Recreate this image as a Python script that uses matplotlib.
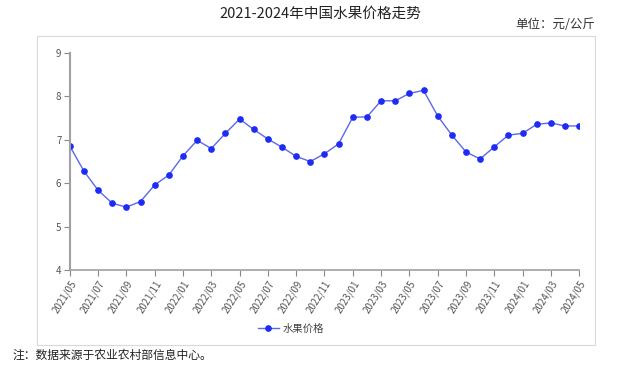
import matplotlib
matplotlib.use("Agg")
import matplotlib.pyplot as plt
from matplotlib.patches import Rectangle

plt.rcParams['font.family'] = ['Noto Sans CJK SC', 'DejaVu Sans']

# monthly fruit price, 2021/05 - 2024/05 (yuan/kg)
months = ['2021/05', '2021/06', '2021/07', '2021/08', '2021/09', '2021/10', '2021/11', '2021/12',
          '2022/01', '2022/02', '2022/03', '2022/04', '2022/05', '2022/06', '2022/07', '2022/08',
          '2022/09', '2022/10', '2022/11', '2022/12', '2023/01', '2023/02', '2023/03', '2023/04',
          '2023/05', '2023/06', '2023/07', '2023/08', '2023/09', '2023/10', '2023/11', '2023/12',
          '2024/01', '2024/02', '2024/03', '2024/04', '2024/05']
prices = [6.86, 6.28, 5.84, 5.54, 5.45, 5.58, 5.96, 6.19,
          6.63, 6.99, 6.80, 7.15, 7.48, 7.24, 7.02, 6.83,
          6.62, 6.50, 6.68, 6.91, 7.52, 7.53, 7.90, 7.90,
          8.07, 8.14, 7.55, 7.11, 6.72, 6.56, 6.84, 7.11,
          7.15, 7.36, 7.39, 7.32, 7.32]
yticks = [4, 5, 6, 7, 8, 9]

fig = plt.figure(figsize=(6.4, 3.71), dpi=100)
fig.patch.set_facecolor('white')

# light frame around the chart
fig.patches.append(Rectangle((0.058, 0.070), 0.872, 0.833, transform=fig.transFigure,
                             fill=False, edgecolor='#d9d9d9', linewidth=0.8))

ax = fig.add_axes([0.109, 0.272, 0.796, 0.585])
x = list(range(len(months)))
line, = ax.plot(x, prices, color='#5b67ee', linewidth=1.0, marker='o', markersize=3.8,
                markerfacecolor='#1e2bf5', markeredgecolor='#1e2bf5', label='水果价格')

ax.set_xlim(0, len(months) - 1)
ax.set_ylim(4, 9)
ax.set_yticks(yticks)
ax.set_xticks(x[::2])
ax.set_xticklabels(months[::2], rotation=58, ha='right', rotation_mode='anchor')

for s in ['top', 'right']:
    ax.spines[s].set_visible(False)
ax.spines['left'].set_color('#a0a0a0')
ax.spines['left'].set_linewidth(1.5)
ax.spines['bottom'].set_color('#a0a0a0')
ax.spines['bottom'].set_linewidth(1.2)
ax.tick_params(axis='both', colors='#888888', labelcolor='#555555', labelsize=7,
               length=4, width=0.8, pad=2)

fig.legend(handles=[line], loc='center', bbox_to_anchor=(0.455, 0.113),
           frameon=False, fontsize=7.5, handlelength=2, handletextpad=0.4, labelcolor='#444444')

fig.text(0.5, 0.962, '2021-2024年中国水果价格走势', ha='center', va='center', fontsize=10.5, color='#222222')
fig.text(0.930, 0.935, '单位：元/公斤', ha='right', va='center', fontsize=9, color='#333333')
fig.text(0.02, 0.042, '注：数据来源于农业农村部信息中心。', ha='left', va='center', fontsize=8.5, color='#222222')

fig.savefig('out.png', dpi=100, facecolor='white')
